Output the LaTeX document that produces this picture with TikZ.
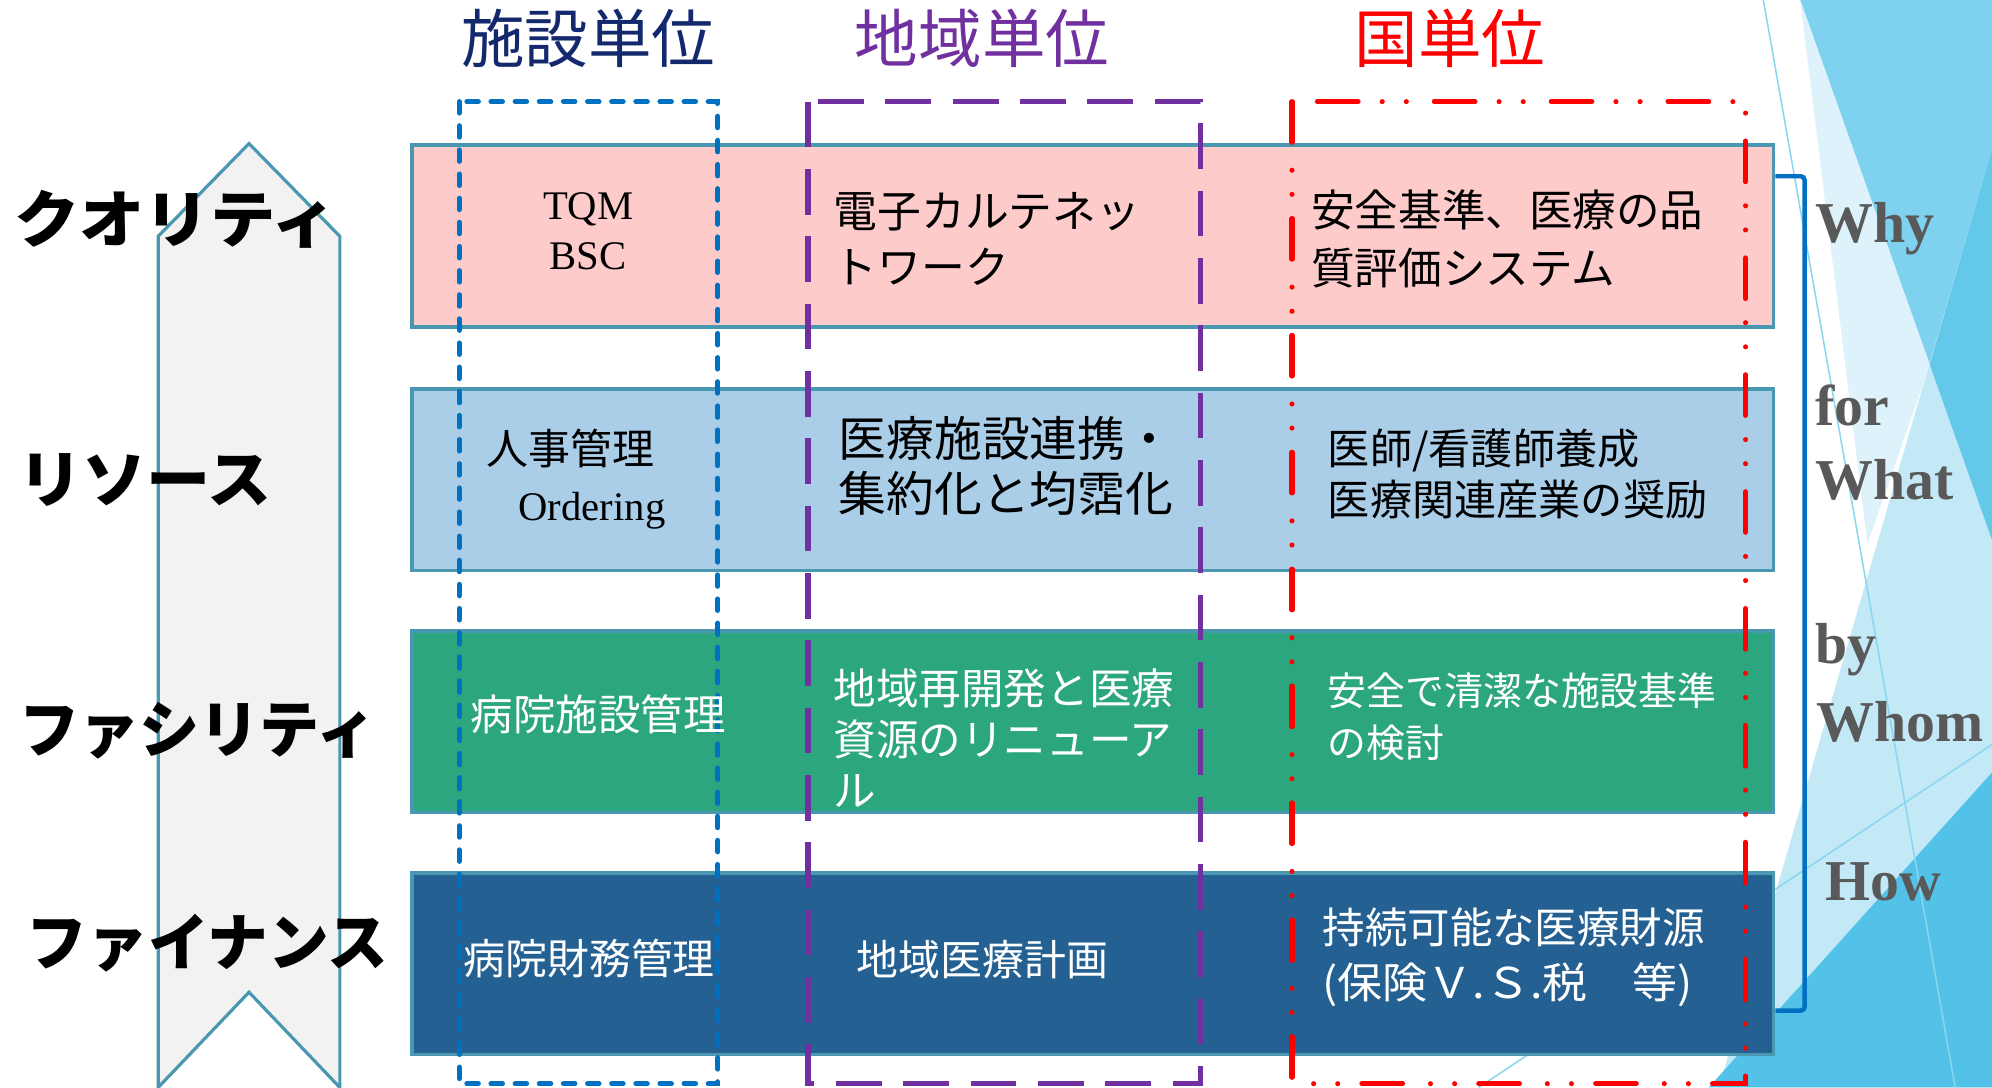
\documentclass[tikz,border=0pt]{standalone}
\usepackage{fontspec}
\usepackage{graphicx}
\setmainfont{Liberation Serif}
\newfontfamily\jp{Noto Sans CJK JP}
\newcommand\fsz[2]{\fontsize{#1}{#2}\selectfont}
\definecolor{navy}{HTML}{14286E}
\definecolor{purp}{HTML}{7030A0}
\definecolor{redc}{HTML}{FF0000}
\definecolor{bdr}{HTML}{4A97B1}
\definecolor{pinkf}{HTML}{FECBCB}
\definecolor{lbluef}{HTML}{AACDE8}
\definecolor{greenf}{HTML}{2CA67E}
\definecolor{dbluef}{HTML}{246192}
\definecolor{arrowf}{HTML}{F2F2F2}
\definecolor{brk}{HTML}{0070C0}
\definecolor{greyt}{HTML}{595959}
\definecolor{dA}{HTML}{7ED2EF}
\definecolor{dB}{HTML}{C3E9F7}
\definecolor{dAB}{HTML}{64C8EB}
\definecolor{dC}{HTML}{DDF2FA}
\definecolor{dD}{HTML}{52C2E9}
\definecolor{dline}{HTML}{8AD5F0}
\begin{document}
\begin{tikzpicture}[x=1pt,y=-1pt,
  row/.style={draw=bdr, line width=3pt, minimum width=1072pt, minimum height=143pt, inner sep=0pt},
  cell/.style={inner sep=0pt, anchor=west, align=left},
  hdr/.style={inner sep=0pt, font=\jp\fsz{50}{60}},
  lbl/.style={inner sep=0pt, anchor=west, font=\jp\bfseries\fsz{49}{58}},
  wlbl/.style={inner sep=0pt, anchor=base west, text=greyt, font=\bfseries\fsz{45.5}{56}},
  bluebox/.style={draw=brk, line width=4pt, dash pattern=on 9pt off 10pt, line cap=round},
  purplebox/.style={draw=purp, line width=4pt, dash pattern=on 36pt off 17pt},
  redbox/.style={draw=redc, line width=4pt, dash pattern=on 32pt off 22pt on 0pt off 19pt on 0pt off 19pt, line cap=round},
  bracket/.style={draw=brk, line width=3.5pt, rounded corners=3pt},
  thinl/.style={draw=dline, line width=1.2pt}
]
\useasboundingbox (0,0) rectangle (1568,856);
\fill[white] (0,0) rectangle (1568,856);

% background facets
\fill[dA] (1417,0) -- (1568,0) -- (1568,425) -- cycle;
\fill[dB] (1568,117) -- (1568,856) -- (1353,856) -- cycle;
\fill[dAB] (1519,287) -- (1568,117) -- (1568,425) -- cycle;
\fill[dC] (1417,0) -- (1519,287) -- (1470,428) -- cycle;
\fill[dD] (1568,608) -- (1568,856) -- (1345,856) -- cycle;
\draw[thinl] (1388,0) -- (1539,856);
\draw[thinl] (1164,856) -- (1568,586);

% left arrow
\draw[fill=arrowf, draw=bdr, line width=2.5pt, line join=miter]
  (196,113) -- (267.5,186) -- (267.5,856) -- (196,781) -- (124.5,856) -- (124.5,186) -- cycle;

% rows
\node[row, fill=pinkf]  (r1) at (860,185.75) {};
\node[row, fill=lbluef] (r2) at (860,377.5) {};
\node[row, fill=greenf] (r3) at (860,568) {};
\node[row, fill=dbluef] (r4) at (860,758.5) {};

% column frames
\draw[bluebox] (361.5,80) rectangle (565,853);
\draw[purplebox] (636,80) rectangle (945,853);
\draw[redbox] (1017,80) rectangle (1374,853);

% headers
\node[hdr, text=navy] (h1) at (463,30) {施設単位};
\node[hdr, text=purp] (h2) at (773,30) {地域単位};
\node[hdr, text=redc] (h3) at (1141.5,30) {国単位};

% left labels
\node[lbl] (l1) at (11,172.6) {\scalebox{1.05}[1]{クオリティ}};
\node[lbl] (l2) at (14,378) {\scalebox{1.03}[1]{リソース}};
\node[lbl] (l3) at (15,575) {\scalebox{0.965}[1]{ファシリティ}};
\node[lbl] (l4) at (21,742.3) {\scalebox{0.975}[1]{ファイナンス}};

% row 1
\node[inner sep=0pt, align=center, font=\fsz{32}{40}] (c11) at (463,182) {TQM\\BSC};
\node[cell, font=\jp\fsz{34.5}{44}] (c12) at (656,188) {電子カルテネッ\\トワーク};
\node[cell, font=\jp\fsz{34.3}{45}] (c13) at (1032,188) {安全基準、医療の品\\質評価システム};

% row 2
\node[cell, font=\jp\fsz{33}{40}] (c21) at (383,353) {人事管理};
\node[inner sep=0pt, anchor=base west, font=\fsz{32}{40}] (c21b) at (408,410) {Ordering};
\node[cell, font=\jp\fsz{37.6}{43}] (c22) at (660,366.5) {医療施設連携・\\集約化と均霑化};
\node[cell, font=\jp\fsz{33.2}{40}] (c23) at (1045,373) {医師/看護師養成\\医療関連産業の奨励};

% row 3
\node[cell, text=white, font=\jp\fsz{33.4}{40}] (c31) at (370.5,562.6) {病院施設管理};
\node[cell, text=white, font=\jp\fsz{33.5}{40.3}] (c32) at (656,581) {地域再開発と医療\\資源のリニューア\\ル};
\node[cell, text=white, font=\jp\fsz{30.6}{40.5}] (c33) at (1045,564) {安全で清潔な施設基準\\の検討};

% row 4
\node[cell, text=white, font=\jp\fsz{33}{40}] (c41) at (364.5,754.6) {病院財務管理};
\node[cell, text=white, font=\jp\fsz{33}{40}] (c42) at (674,755) {地域医療計画};
\node[cell, text=white, font=\jp\fsz{33.4}{43}] (c43) at (1041,753.5) {持続可能な医療財源\\\scalebox{1.06}[1]{(保険Ｖ.Ｓ.税　等)}};

% bracket
\draw[bracket] ([yshift=-26pt]r1.north east) -- ++(23,0) |- ([yshift=36pt]r4.south east);

% right labels
\node[wlbl] (w1) at (1429,191) {Why};
\node[wlbl] (w2) at (1429,335) {for};
\node[wlbl] (w3) at (1429,393.5) {What};
\node[wlbl] (w4) at (1429,522.5) {by};
\node[wlbl] (w5) at (1430,583.5) {Whom};
\node[wlbl] (w6) at (1437,709) {How};
\end{tikzpicture}
\end{document}
